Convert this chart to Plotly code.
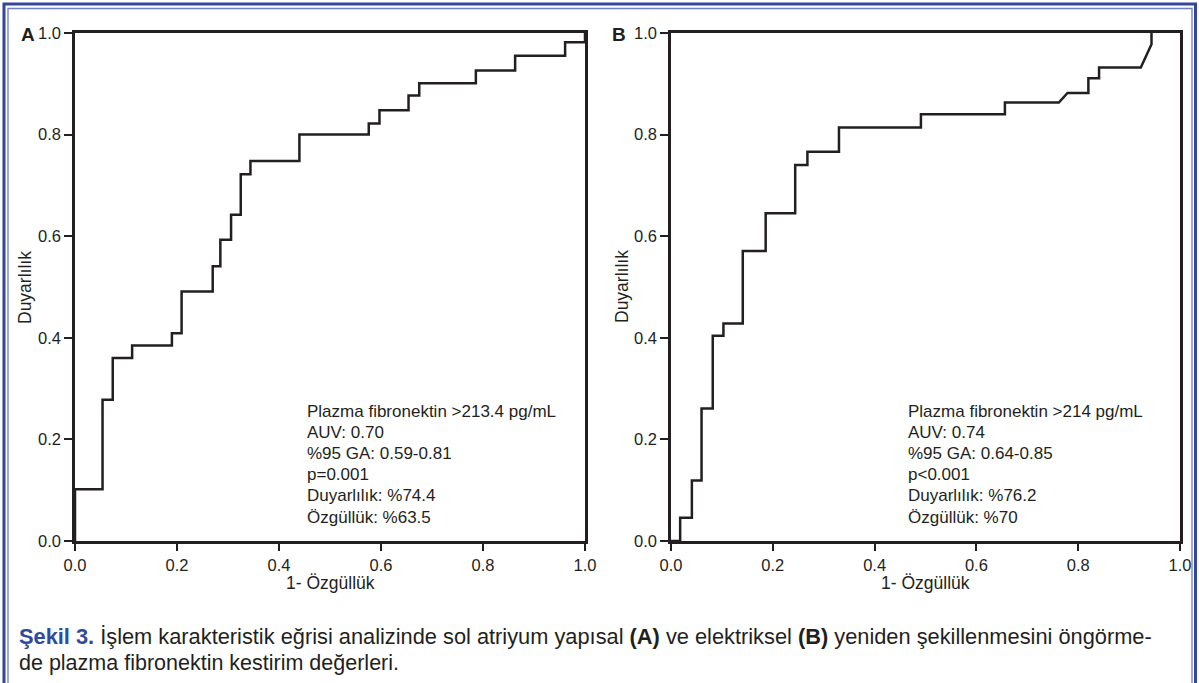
import plotly.graph_objects as go

# ROC curve A (plasma fibronectin, structural remodelling)
fpr_a = [0, 0, 0.054, 0.054, 0.074, 0.074, 0.112, 0.112, 0.19, 0.19, 0.209, 0.209,
         0.27, 0.27, 0.285, 0.285, 0.306, 0.306, 0.325, 0.325, 0.344, 0.344, 0.44, 0.44,
         0.576, 0.576, 0.597, 0.597, 0.654, 0.654, 0.675, 0.675, 0.786, 0.786, 0.863, 0.863,
         0.961, 0.961, 1.0, 1.0]
tpr_a = [0, 0.102, 0.102, 0.278, 0.278, 0.36, 0.36, 0.385, 0.385, 0.409, 0.409, 0.491,
         0.491, 0.541, 0.541, 0.593, 0.593, 0.642, 0.642, 0.722, 0.722, 0.748, 0.748, 0.80,
         0.80, 0.822, 0.822, 0.848, 0.848, 0.877, 0.877, 0.901, 0.901, 0.926, 0.926, 0.955,
         0.955, 0.982, 0.982, 1.0]

# ROC curve B (plasma fibronectin, electrical remodelling)
fpr_b = [0, 0.018, 0.018, 0.041, 0.041, 0.060, 0.060, 0.082, 0.082, 0.103, 0.103, 0.141,
         0.141, 0.186, 0.186, 0.244, 0.244, 0.268, 0.268, 0.330, 0.330, 0.491, 0.491, 0.656,
         0.656, 0.762, 0.779, 0.820, 0.820, 0.841, 0.841, 0.923, 0.944, 0.944]
tpr_b = [0, 0, 0.046, 0.046, 0.119, 0.119, 0.261, 0.261, 0.404, 0.404, 0.428, 0.428,
         0.571, 0.571, 0.645, 0.645, 0.740, 0.740, 0.766, 0.766, 0.814, 0.814, 0.840, 0.840,
         0.863, 0.863, 0.882, 0.882, 0.911, 0.911, 0.932, 0.932, 0.978, 1.0]

tick_vals = [0.0, 0.2, 0.4, 0.6, 0.8, 1.0]
tick_text = ["0.0", "0.2", "0.4", "0.6", "0.8", "1.0"]

stats_a = ["Plazma fibronektin >213.4 pg/mL", "AUV: 0.70", "%95 GA: 0.59-0.81",
           "p=0.001", "Duyarlılık: %74.4", "Özgüllük: %63.5"]
stats_b = ["Plazma fibronektin >214 pg/mL", "AUV: 0.74", "%95 GA: 0.64-0.85",
           "p<0.001", "Duyarlılık: %76.2", "Özgüllük: %70"]

panel_labels = ["A", "B"]
x_title = "1- Özgüllük"
y_title = "Duyarlılık"
caption_1 = ("<span style='color:#2f4b9e'><b>Şekil 3.</b></span> İşlem karakteristik eğrisi analizinde "
             "sol atriyum yapısal <b>(A)</b> ve elektriksel <b>(B)</b> yeniden şekillenmesini öngörme-")
caption_2 = "de plazma fibronektin kestirim değerleri."

W, H = 1199, 683
FONT = "Liberation Sans, Arial, Helvetica, sans-serif"
INK = "#231f20"

def px_x(p):
    return p / W

def px_y(p):
    return 1 - p / H

fig = go.Figure()
fig.add_trace(go.Scatter(x=fpr_a, y=tpr_a, mode="lines", line=dict(color=INK, width=2.5),
                         xaxis="x", yaxis="y", showlegend=False, hoverinfo="skip"))
fig.add_trace(go.Scatter(x=fpr_b, y=tpr_b, mode="lines", line=dict(color=INK, width=2.5),
                         xaxis="x2", yaxis="y2", showlegend=False, hoverinfo="skip"))

y_dom = [px_y(541), px_y(33)]
axis_common = dict(range=[0, 1], tickvals=tick_vals, ticktext=tick_text, ticks="outside",
                   tickwidth=2, tickcolor=INK, showline=True, linecolor=INK,
                   linewidth=2.5, mirror=True, showgrid=False, zeroline=False, automargin=False,
                   tickfont=dict(family=FONT, size=16.5, color=INK), fixedrange=True)

fig.update_layout(
    template="none",
    width=W, height=H, margin=dict(l=0, r=0, t=0, b=0, pad=0), autosize=False,
    paper_bgcolor="white", plot_bgcolor="white",
    xaxis=dict(domain=[px_x(75), px_x(585)], anchor="y", ticklen=7, **axis_common),
    yaxis=dict(domain=y_dom, anchor="x", ticklen=8, **axis_common),
    xaxis2=dict(domain=[px_x(671), px_x(1180)], anchor="y2", ticklen=7, **axis_common),
    yaxis2=dict(domain=y_dom, anchor="x2", ticklen=8, **axis_common),
)

ann = []
for xc, yt_x in [(330, 25), (925, 622)]:
    ann.append(dict(text=x_title, x=px_x(xc), y=px_y(583), xref="paper", yref="paper",
                    showarrow=False, font=dict(family=FONT, size=17.5, color=INK),
                    xanchor="center", yanchor="middle"))
    ann.append(dict(text=y_title, x=px_x(yt_x), y=px_y(287), xref="paper", yref="paper",
                    showarrow=False, textangle=-90, font=dict(family=FONT, size=17.5, color=INK),
                    xanchor="center", yanchor="middle"))
for lab, xl in zip(panel_labels, [28, 619]):
    ann.append(dict(text="<b>" + lab + "</b>", x=px_x(xl), y=px_y(34), xref="paper", yref="paper",
                    showarrow=False, font=dict(family=FONT, size=19, color=INK),
                    xanchor="center", yanchor="middle"))
for lines, xl in [(stats_a, 305), (stats_b, 906)]:
    for i, t in enumerate(lines):
        ann.append(dict(text=t, x=px_x(xl), y=px_y(411 + 21.2 * i), xref="paper", yref="paper",
                        showarrow=False, font=dict(family=FONT, size=17, color=INK),
                        xanchor="left", yanchor="middle"))
ann.append(dict(text=caption_1, x=px_x(17), y=px_y(636), xref="paper", yref="paper",
                showarrow=False, font=dict(family=FONT, size=21.8, color=INK),
                xanchor="left", yanchor="middle"))
ann.append(dict(text=caption_2, x=px_x(17), y=px_y(663), xref="paper", yref="paper",
                showarrow=False, font=dict(family=FONT, size=21.5, color=INK),
                xanchor="left", yanchor="middle"))
fig.update_layout(annotations=ann)

shapes = [
    dict(type="rect", xref="paper", yref="paper", x0=px_x(4), x1=px_x(1195.5),
         y0=px_y(700), y1=px_y(4), line=dict(color="#34479a", width=3), layer="above"),
    dict(type="rect", xref="paper", yref="paper", x0=px_x(8), x1=px_x(1192),
         y0=px_y(700), y1=px_y(8.5), line=dict(color="#6d7fc2", width=1.3), layer="above"),
]
fig.update_layout(shapes=shapes)

post = (
    "document.documentElement.style.margin='0';document.documentElement.style.padding='0';"
    "document.documentElement.style.overflow='hidden';"
    "document.body.style.margin='0';document.body.style.padding='0';"
    "document.body.style.overflow='hidden';"
)
fig.write_html("out.html", config={"displayModeBar": False}, post_script=post)
